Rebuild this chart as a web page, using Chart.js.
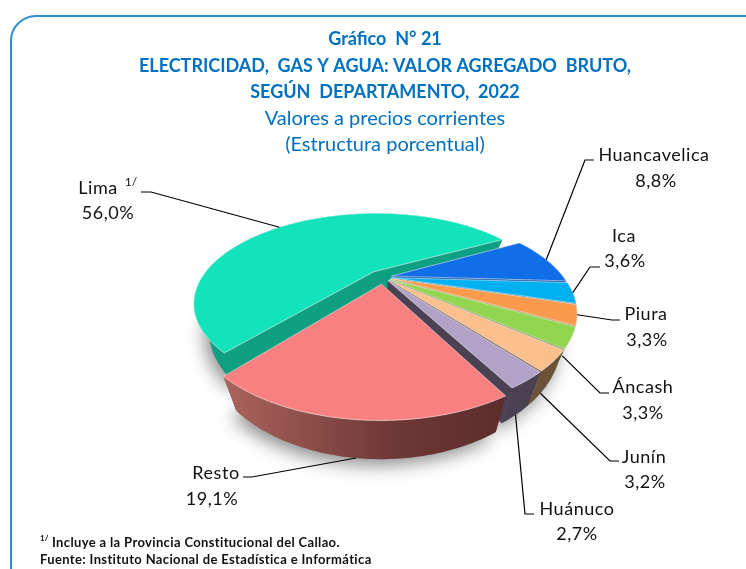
<!DOCTYPE html>
<html><head><meta charset="utf-8">
<style>
html,body{margin:0;padding:0;background:#fff;overflow:hidden}
#wrap{position:relative;width:746px;height:569px;overflow:hidden}
#frame{position:absolute;left:10px;top:15px;width:790px;height:600px;border:2px solid #2F8DD3;border-radius:26px;box-sizing:border-box}
canvas{position:absolute;left:0;top:0}
</style>
<script src="https://cdn.jsdelivr.net/npm/chart.js@4/dist/chart.umd.min.js"></script>
</head><body>
<div id="wrap"><div id="frame"></div><canvas id="c" width="746" height="569"></canvas></div>
<script>
const categories = ["Lima","Huancavelica","Ica","Piura","Áncash","Junín","Huánuco","Resto"];
const shares = [56.0,8.8,3.6,3.3,3.3,3.2,2.7,19.1];
const shareLabels = ["56,0%","8,8%","3,6%","3,3%","3,3%","3,2%","2,7%","19,1%"];
const titleLines = ["Gráfico  N° 21","ELECTRICIDAD,  GAS Y AGUA: VALOR AGREGADO  BRUTO,","SEGÚN  DEPARTAMENTO,  2022"];
const subtitleLines = ["Valores a precios corrientes","(Estructura porcentual)"];
const footLines = ["Incluye a la Provincia Constitucional del Callao.","Fuente: Instituto Nacional de Estadística e Informática"];

const topColors = ["#12E3BA","#106FE8","#00B0F0","#FB9A4B","#92D64F","#FBC08E","#B3A2C7","#F98080"];
const wallColors = ["#0F9F82","#0B4FA5","#007BA8","#B06C35","#668F37","#6B5238","#4A4253","#7A3A38"];
const offsets = [60,35,35,35,35,35,35,60];
const rotationDeg = 220;

// perspective view
const view = {cx:383,cy:277,rx:172,ry:82,k:0.35,depth:24,shrink:0.08};
function proj(u,v,z){
  const w=1-view.k*v, s=1-z*view.shrink;
  return [view.cx+view.rx*u/w*s, view.cy+view.ry*v/w+z*view.depth/w];
}
function geom(el){
  const p=el.getProps(['startAngle','endAngle','outerRadius']);
  const a0=p.startAngle,a1=p.endAngle,R=p.outerRadius,mid=(a0+a1)/2;
  const off=(el.options.offset||0)/4/R;
  return {a0,a1,mx:Math.cos(mid)*off,my:Math.sin(mid)*off,mid};
}
function rim(g,t,z){return proj(g.mx+Math.cos(t),g.my+Math.sin(t),z);}
function poly(ctx,pts){ctx.beginPath();pts.forEach((q,i)=>i?ctx.lineTo(q[0],q[1]):ctx.moveTo(q[0],q[1]));ctx.closePath();}
function rimPts(g,z){const out=[];const n=Math.ceil((g.a1-g.a0)/0.02);for(let i=0;i<=n;i++)out.push(rim(g,g.a0+(g.a1-g.a0)*i/n,z));return out;}

const pie3d={id:'pie3d',
  beforeDatasetDraw(chart,args){
    const ctx=chart.ctx, arcs=chart.getDatasetMeta(0).data;
    const gs=arcs.map(geom);
    ctx.save();
    // soft ground shadow
    ctx.save();
    ctx.shadowColor='rgba(0,0,0,0.45)';ctx.shadowBlur=18;ctx.shadowOffsetX=-4;ctx.shadowOffsetY=6;
    ctx.fillStyle='#888';
    gs.forEach(g=>{poly(ctx,[proj(g.mx,g.my,1),...rimPts(g,1)]);ctx.fill();});
    ctx.restore();
    // back to front: Lima, then clockwise round the right side down to Resto
    arcs.forEach((el,i)=>{
      const g=gs[i], top=rimPts(g,0), bot=rimPts(g,1);
      const a=proj(g.mx,g.my,0), b=proj(g.mx,g.my,1);
      ctx.fillStyle=wallColors[i];
      poly(ctx,[a,top[0],bot[0],b]);ctx.fill();
      poly(ctx,[a,top[top.length-1],bot[bot.length-1],b]);ctx.fill();
      let fill=wallColors[i];
      if(i===categories.length-1){
        const gr=ctx.createLinearGradient(top[top.length-1][0],0,top[0][0],0);
        gr.addColorStop(0,'#AB645C');gr.addColorStop(0.6,'#6E3836');gr.addColorStop(1,'#5C2C2B');
        fill=gr;
      }
      ctx.fillStyle=fill;
      poly(ctx,[...top,...bot.slice().reverse()]);ctx.fill();
      ctx.fillStyle=topColors[i];
      ctx.strokeStyle='rgba(255,255,255,0.65)';ctx.lineWidth=0.8;
      poly(ctx,[a,...top]);ctx.fill();ctx.stroke();
    });
    ctx.restore();
    return false;
  },
  afterDatasetsDraw(chart){
    const ctx=chart.ctx, arcs=chart.getDatasetMeta(0).data;
    ctx.save();
    ctx.strokeStyle='#000';ctx.lineWidth=1.2;
    // leader lines: rim anchor (from each slice's own angle) to the label elbow
    arcs.forEach((el,i)=>{
      const g=geom(el), L=labelLayout[i], s=rim(g,g.a0+(g.a1-g.a0)*L.t,L.z);
      ctx.beginPath();ctx.moveTo(s[0],s[1]);
      L.elbow.forEach(q=>ctx.lineTo(q[0],q[1]));
      ctx.stroke();
    });
    ctx.fillStyle='#111';ctx.textAlign='center';ctx.textBaseline='middle';
    ctx.font='18px Lato';ctx.letterSpacing='0.55px';
    arcs.forEach((el,i)=>{
      const L=labelLayout[i];
      ctx.fillText(categories[i],L.x,L.y);
      ctx.fillText(shareLabels[i],L.px,L.py);
    });
    // superscript on Lima
    ctx.font='12px Lato';ctx.letterSpacing='0px';
    ctx.fillText('1/',131,182);
    // footnotes
    ctx.textAlign='left';ctx.fillStyle='#111';
    ctx.font='bold 13px Lato';ctx.letterSpacing='0.36px';
    ctx.fillText(footLines[0],52,543);
    ctx.fillText(footLines[1],40,560);
    ctx.font='bold 8px Lato';ctx.letterSpacing='0px';
    ctx.fillText('1/',40,538);
    ctx.restore();
  }
};
const labelLayout=[
 {x:98,y:188,px:108,py:213,t:0.47,z:0,elbow:[[151,192],[141,192]]},
 {x:654,y:155,px:656,py:181,t:0.5,z:0,elbow:[[585,160],[594,160]]},
 {x:624,y:236,px:625,py:261,t:0.5,z:0,elbow:[[590,267],[600,267]]},
 {x:646,y:314,px:647,py:340,t:0.5,z:0,elbow:[[612,320],[620,320]]},
 {x:643,y:387,px:643,py:413,t:0.5,z:0.6,elbow:[[600,393],[609,393]]},
 {x:644,y:457,px:645,py:482,t:0.5,z:1,elbow:[[610,461],[619,461]]},
 {x:577,y:509,px:577,py:534,t:0.5,z:1,elbow:[[525,514],[534,514]]},
 {x:216,y:473,px:212,py:499,t:0.5,z:1,elbow:[[252,477],[243,477]]}
];

new Chart(document.getElementById('c'),{
  type:'pie',
  plugins:[pie3d],
  data:{labels:categories,datasets:[{data:shares,offset:offsets,backgroundColor:topColors,borderWidth:0}]},
  options:{
    responsive:false,animation:false,rotation:rotationDeg,
    layout:{padding:{left:24}},
    plugins:{
      legend:{display:false},tooltip:{enabled:false},
      title:{display:true,text:titleLines,color:'#0070C0',font:{family:'Lato',size:18,weight:'bold',lineHeight:1.47},padding:{top:26,bottom:0}},
      subtitle:{display:true,text:subtitleLines,color:'#0070C0',font:{family:'Lato',size:20,weight:'normal',lineHeight:1.32},padding:{top:0,bottom:0}}
    }
  }
});
</script></body></html>
